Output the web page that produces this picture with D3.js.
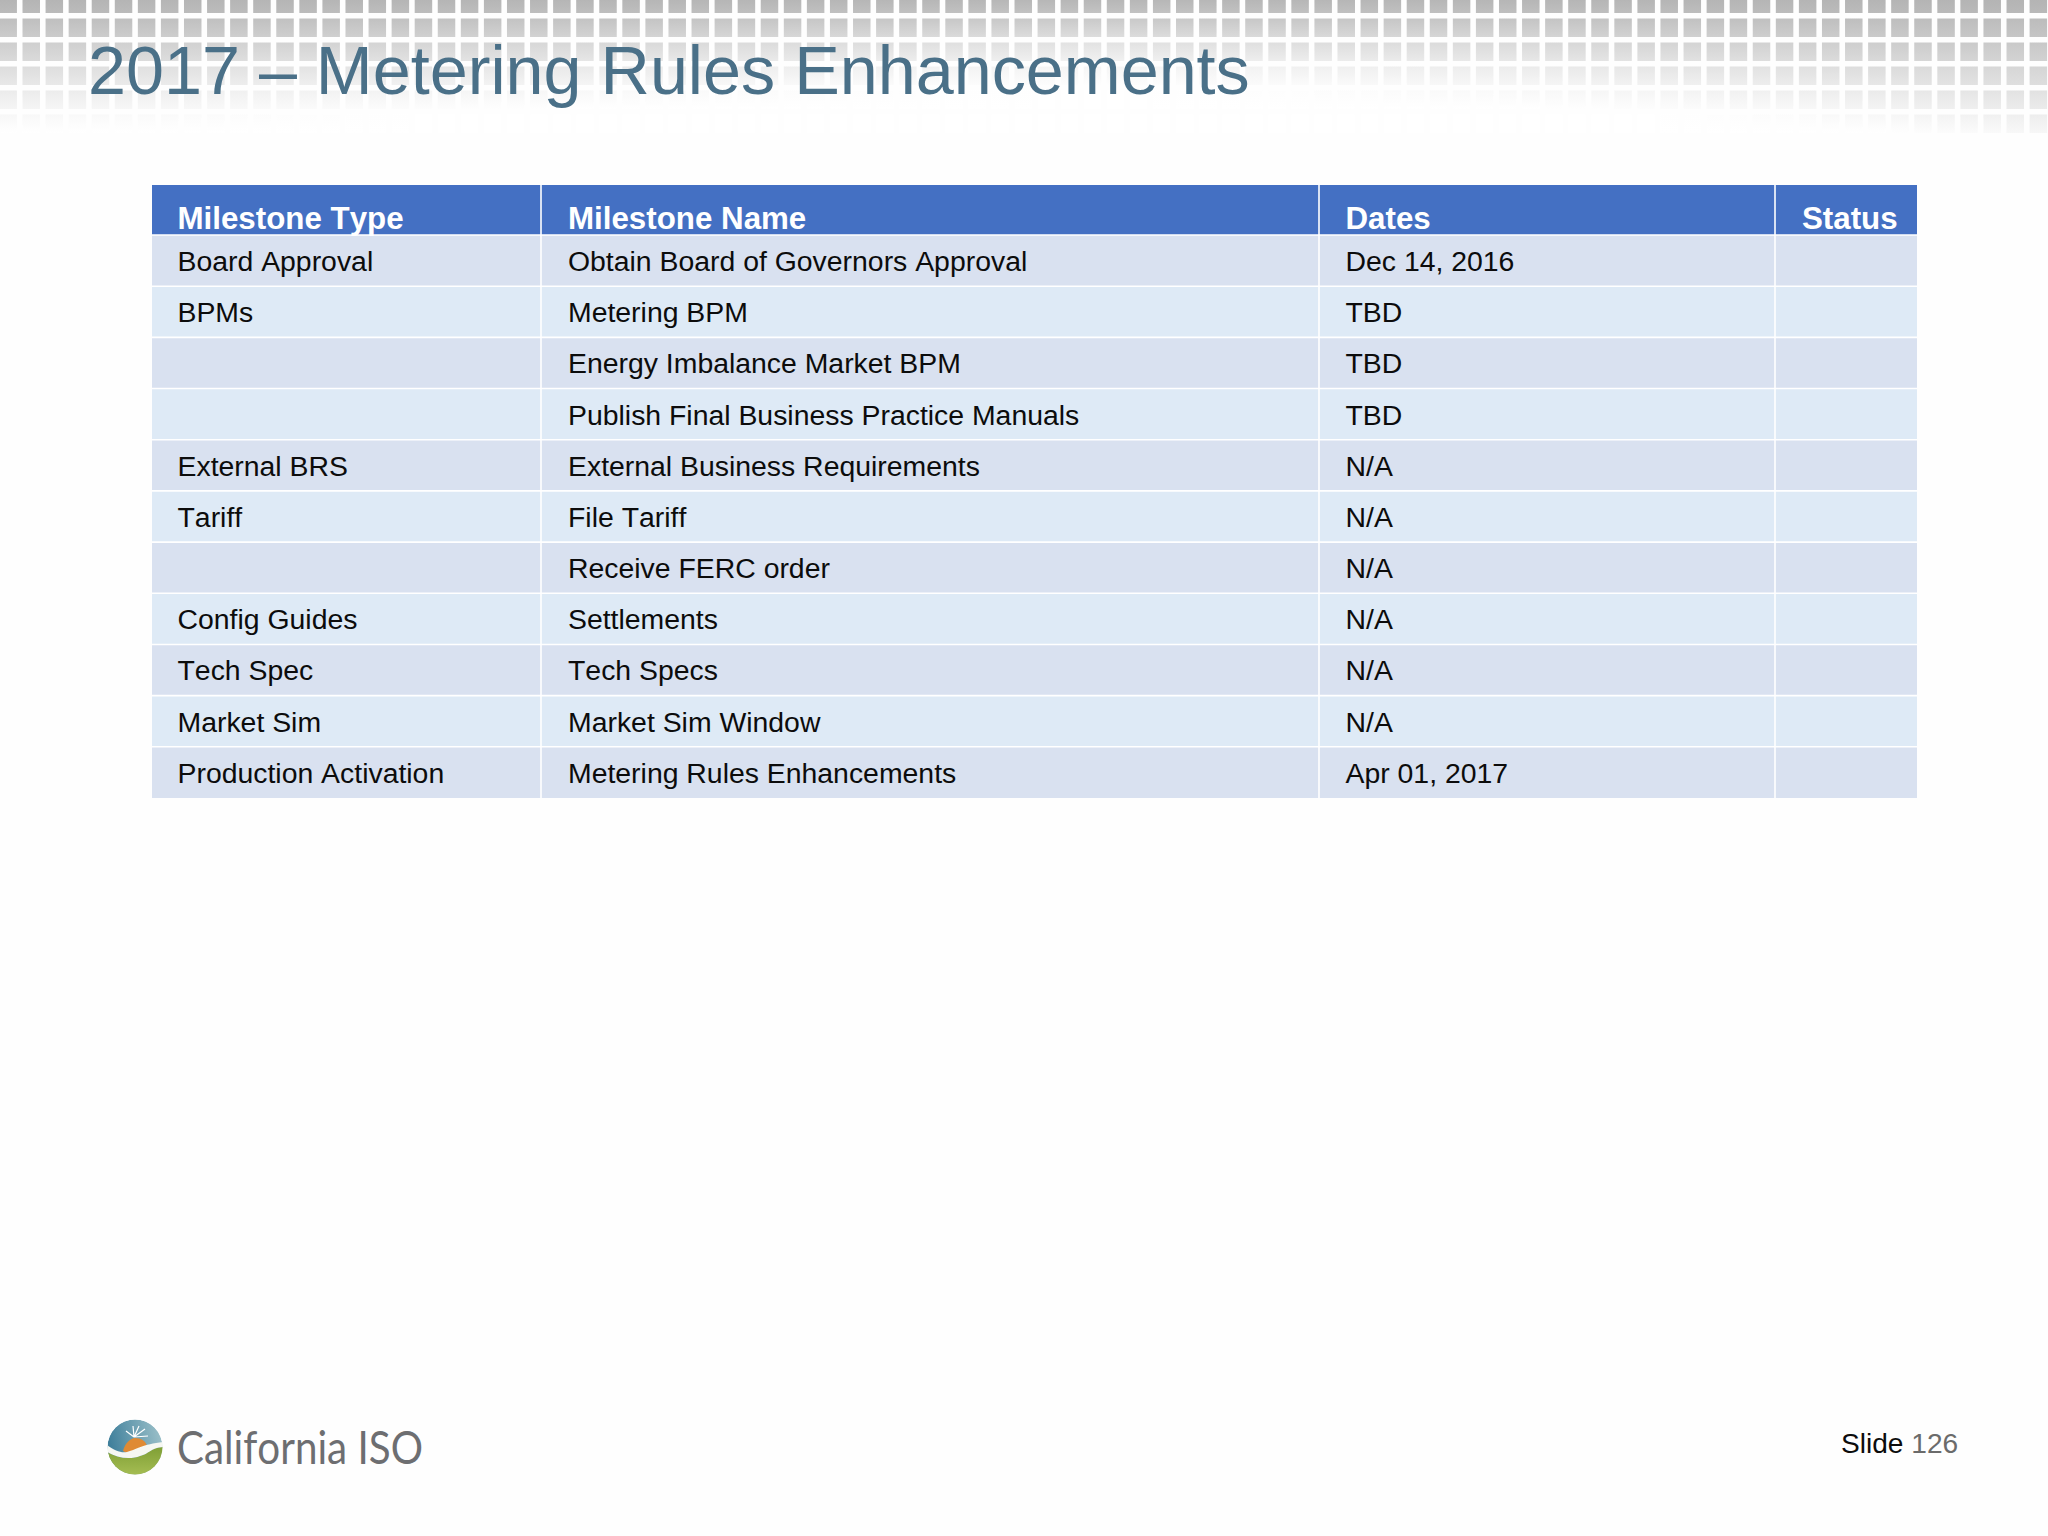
<!DOCTYPE html>
<html>
<head>
<meta charset="utf-8">
<script src="https://cdn.jsdelivr.net/npm/d3@7"></script>
<style>
  html, body { margin: 0; padding: 0; background: #fefefe; }
  svg { display: block; }
  text { font-family: "Liberation Sans", Arial, sans-serif; font-kerning: none; }
</style>
</head>
<body>
<div id="slide"></div>
<script>
// Table contents
const headers = ["Milestone Type", "Milestone Name", "Dates", "Status"];
const milestoneTypes = ["Board Approval", "BPMs", "", "", "External BRS", "Tariff", "", "Config Guides", "Tech Spec", "Market Sim", "Production Activation"];
const milestoneNames = ["Obtain Board of Governors Approval", "Metering BPM", "Energy Imbalance Market BPM", "Publish Final Business Practice Manuals", "External Business Requirements", "File Tariff", "Receive FERC order", "Settlements", "Tech Specs", "Market Sim Window", "Metering Rules Enhancements"];
const milestoneDates = ["Dec 14, 2016", "TBD", "TBD", "TBD", "N/A", "N/A", "N/A", "N/A", "N/A", "N/A", "Apr 01, 2017"];
const milestoneStatus = ["", "", "", "", "", "", "", "", "", "", ""];
const columns = [milestoneTypes, milestoneNames, milestoneDates, milestoneStatus];

const width = 2048;
const height = 1536;

const svg = d3.select("#slide")
    .append("svg")
    .attr("width", width)
    .attr("height", height);
const defs = svg.append("defs");

// Header background: grey squares that fade out towards the bottom
const fadeEnd = d3.scaleLinear()
    .domain([0, 700, 1100, 1500, 1800, 2048])
    .range([135, 105, 92, 110, 125, 150]);
const fadePower = d3.scaleLinear()
    .domain([0, 700, 1100, 1500, 1800, 2048])
    .range([1.2, 1.4, 1.6, 1.5, 1.2, 1.0]);
const squareGrey = d3.scaleLinear().domain([0, 1]).range(["#ffffff", "#b2b2b2"]);
function squareColor(x, y) {
    const t = Math.max(0, Math.min(1, 1 - y / fadeEnd(x)));
    return squareGrey(Math.pow(t, fadePower(x)));
}
defs.append("filter").attr("id", "soft")
    .append("feGaussianBlur").attr("stdDeviation", 0.7);
const squareRows = d3.range(6);
const squareCols = d3.range(-1, 89);
const squareGroup = svg.append("g").attr("filter", "url(#soft)");
squareRows.forEach(r => {
    squareCols.forEach(c => {
        const x = 22.5 + c * 23.07;
        const y = r * 24 - 5.5;
        const id = `sq${r}_${c}`;
        const grad = defs.append("linearGradient")
            .attr("id", id)
            .attr("x1", 0).attr("y1", 0).attr("x2", 0).attr("y2", 1);
        grad.append("stop").attr("offset", 0).attr("stop-color", squareColor(x + 9, y));
        grad.append("stop").attr("offset", 1).attr("stop-color", squareColor(x + 9, y + 18.5));
        squareGroup.append("rect")
            .attr("x", x).attr("y", y)
            .attr("width", 17.5).attr("height", 18.5)
            .attr("fill", `url(#${id})`);
    });
});

// Title
svg.append("text")
    .attr("x", 88)
    .attr("y", 94)
    .attr("font-size", 68.3)
    .attr("fill", "#4a7088")
    .text("2017 – Metering Rules Enhancements");

// Table scales
const tableLeft = 152;
const tableRight = 1917;
const headerTop = 185;
const headerBottom = 235;
const tableBottom = 798;
const x = d3.scaleOrdinal().domain(headers).range([tableLeft, 541, 1319, 1775]);
const colEnd = d3.scaleOrdinal().domain(headers).range([541, 1319, 1775, tableRight]);
const y = d3.scaleBand().domain(d3.range(milestoneNames.length)).range([headerBottom, tableBottom]);
const cellPad = d3.scaleOrdinal().domain(headers).range([25.5, 27, 26.5, 27]);

const table = svg.append("g");

// Header cells
table.selectAll("rect.head")
    .data(headers)
    .enter()
    .append("rect")
    .attr("class", "head")
    .attr("x", d => x(d))
    .attr("y", headerTop)
    .attr("width", d => colEnd(d) - x(d))
    .attr("height", headerBottom - headerTop)
    .attr("fill", "#4470c3");

// Body rows
table.selectAll("rect.row")
    .data(milestoneNames)
    .enter()
    .append("rect")
    .attr("class", "row")
    .attr("x", tableLeft)
    .attr("y", (d, i) => y(i))
    .attr("width", tableRight - tableLeft)
    .attr("height", y.bandwidth())
    .attr("fill", (d, i) => i % 2 === 0 ? "#d9e1f0" : "#deeaf6");

// White grid lines
table.selectAll("line.col")
    .data(headers.slice(1))
    .enter()
    .append("line")
    .attr("class", "col")
    .attr("x1", d => x(d)).attr("x2", d => x(d))
    .attr("y1", headerTop).attr("y2", tableBottom)
    .attr("stroke", "#fff")
    .attr("stroke-width", 1.6);

table.selectAll("line.rowline")
    .data(d3.range(milestoneNames.length))
    .enter()
    .append("line")
    .attr("class", "rowline")
    .attr("x1", tableLeft).attr("x2", tableRight)
    .attr("y1", d => y(d)).attr("y2", d => y(d))
    .attr("stroke", "#fff")
    .attr("stroke-width", 1.6);

// Cell text
headers.forEach((h, c) => {
    table.selectAll(`text.c${c}`)
        .data(columns[c])
        .enter()
        .append("text")
        .attr("class", `c${c}`)
        .attr("x", x(h) + cellPad(h))
        .attr("y", (d, i) => y(i) + 36)
        .attr("font-size", 28.4)
        .attr("fill", "#0c0c0c")
        .text(d => d);
});

// Header text goes last, the descenders hang over the first row
table.selectAll("text.head")
    .data(headers)
    .enter()
    .append("text")
    .attr("class", "head")
    .attr("x", d => x(d) + cellPad(d))
    .attr("y", 228.7)
    .attr("font-size", 31.3)
    .attr("font-weight", "bold")
    .attr("fill", "#fff")
    .text(d => d);

// Logo
const logo = svg.append("g").attr("transform", "translate(135,1447)");
const skyGrad = defs.append("linearGradient").attr("id", "sky")
    .attr("x1", 0).attr("y1", 0.3).attr("x2", 1).attr("y2", 0.1);
skyGrad.append("stop").attr("offset", 0).attr("stop-color", "#3f7f9b");
skyGrad.append("stop").attr("offset", 1).attr("stop-color", "#9fc3cb");
const landGrad = defs.append("linearGradient").attr("id", "land")
    .attr("x1", 0).attr("y1", 0).attr("x2", 0).attr("y2", 1);
landGrad.append("stop").attr("offset", 0).attr("stop-color", "#7f9f35");
landGrad.append("stop").attr("offset", 1).attr("stop-color", "#a8bf55");
defs.append("clipPath").attr("id", "globe").append("circle").attr("r", 27.5);
const globe = logo.append("g").attr("clip-path", "url(#globe)");
globe.append("circle").attr("r", 27.5).attr("fill", "url(#sky)");
globe.append("path")
    .attr("d", "M-28,5 C-18,11 -5,13 5,9 C14,7 15,1 28,0 L28,30 L-28,30 Z")
    .attr("fill", "url(#land)");
globe.append("path")
    .attr("d", "M-12,4 C-10,-4 -4,-9 0,-9 C6,-9 11,-6 12,-1 C6,1 -2,6 -8,6 Z")
    .attr("fill", "#df8a34");
globe.append("path")
    .attr("d", "M-28,-2 C-20,4 -14,6 -8,5 C0,3 8,-3 28,-5 L28,0 C15,1 14,7 5,9 C-5,13 -18,11 -28,5 Z")
    .attr("fill", "#f6f7f2");
globe.append("path")
    .attr("d", "M-1,-10 L-2,-21 M-1,-10 L4,-21 M-1,-10 L10,-18 M-1,-10 L13,-11 M-1,-10 L-9,-16")
    .attr("stroke", "#fff").attr("stroke-width", 1.2);
svg.append("text")
    .attr("x", 177)
    .attr("y", 1464)
    .attr("font-size", 46)
    .attr("fill", "#6d6e71")
    .attr("textLength", 246)
    .attr("lengthAdjust", "spacingAndGlyphs")
    .style("font-family", "Lato, sans-serif")
    .style("font-weight", 400)
    .text("California ISO");

// Slide number
const slideLabel = svg.append("text")
    .attr("x", 1841)
    .attr("y", 1453)
    .attr("font-size", 28.1);
slideLabel.append("tspan").attr("fill", "#0c0c0c").text("Slide ");
slideLabel.append("tspan").attr("fill", "#6b6b6b").text("126");
</script>
</body>
</html>
